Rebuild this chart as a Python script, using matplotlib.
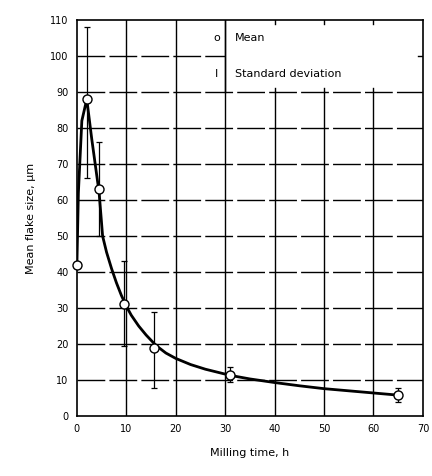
import numpy as np
import matplotlib.pyplot as plt

# mean flake size vs milling time
t_mean = [0, 2, 4.5, 9.5, 15.5, 31, 65]
d_mean = [42, 88, 63, 31, 19, 11.5, 5.8]
err_lo = [42, 66, 50, 19.5, 7.7, 9.5, 4]
err_hi = [42, 108, 76, 43, 29, 13.7, 7.8]

# hand-drawn trend line through the points
curve_t = [0, 0.3, 1, 2, 3, 4.5, 5.2, 6, 7, 8, 9, 10, 11, 12.5, 14, 16, 18, 20,
           23, 26, 31, 35, 40, 45, 50, 55, 60, 65]
curve_d = [42, 62, 82, 88, 77, 62, 50, 45.5, 41, 37, 33.5, 30.5, 28, 25, 22.5,
           19.6, 17.5, 16, 14.3, 13, 11.3, 10.3, 9.3, 8.4, 7.6, 7, 6.4, 5.8]

xticks = np.arange(0, 71, 10)
yticks = np.arange(0, 111, 10)

fig = plt.figure(figsize=(4.32, 4.76), dpi=100)
ax = fig.add_axes([0.178, 0.126, 0.801, 0.832])
ax.set_xlim(0, 70)
ax.set_ylim(0, 110)

# grid: vertical solid, horizontal dashed, legend box top right
for x in xticks[1:-1]:
    top = 110 if x <= 30 else 90
    ax.plot([x, x], [0, top], color='k', lw=1.0, zorder=1)
    if x > 30:
        ax.plot([x, x], [108.8, 110], color='k', lw=1.0, zorder=1)
        ax.plot([x, x], [90, 91.2], color='k', lw=1.0, zorder=1)
for y in yticks[1:-1]:
    right = 30 if y == 100 else 70
    ax.plot([0, right], [y, y], color='k', lw=1.0, dashes=(20, 3), zorder=1)
ax.plot([69, 70], [100, 100], color='k', lw=1.0, zorder=1)
ax.plot([30, 30], [90, 110], color='k', lw=1.0, zorder=1)

# legend text inside the box
ax.text(28.3, 105, 'o', fontsize=8, ha='center', va='center')
ax.text(32, 105, 'Mean', fontsize=8, va='center')
ax.text(28.3, 95, 'I', fontsize=8, ha='center', va='center')
ax.text(32, 95, 'Standard deviation', fontsize=8, va='center')

ax.plot(curve_t, curve_d, color='k', lw=2.0, zorder=2)
yerr = [np.array(d_mean) - np.array(err_lo), np.array(err_hi) - np.array(d_mean)]
ax.errorbar(t_mean, d_mean, yerr=yerr, fmt='none', ecolor='k', elinewidth=0.9,
            capsize=2, capthick=0.9, zorder=3)
ax.plot(t_mean, d_mean, 'o', ms=6.5, mfc='white', mec='k', mew=1.0, zorder=4, clip_on=False)

ax.set_xticks(xticks)
ax.set_yticks(yticks)
ax.tick_params(length=0, labelsize=7, pad=6)
for s in ax.spines.values():
    s.set_linewidth(1.2)
ax.set_xlabel('Milling time, h', fontsize=8, labelpad=10)
ax.set_ylabel('Mean flake size, μm', fontsize=8, labelpad=10)

fig.savefig('out.png', dpi=100)
